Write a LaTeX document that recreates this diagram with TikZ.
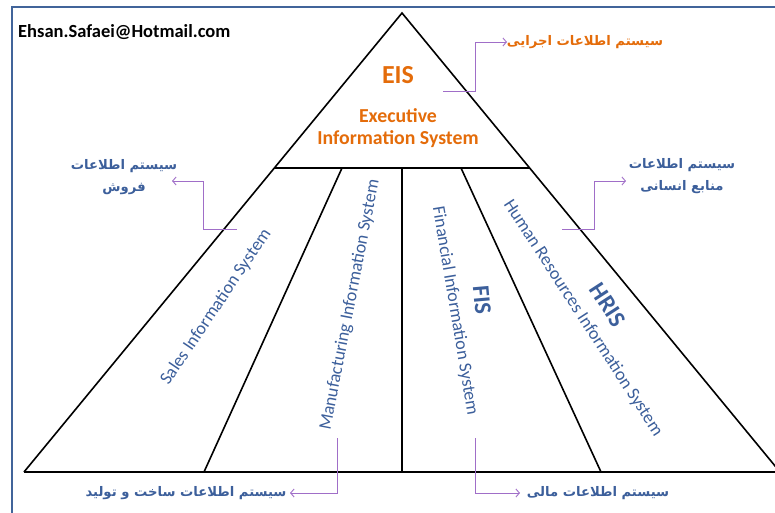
\documentclass[tikz,border=0pt]{standalone}
\usepackage{fontspec}
\setmainfont{Carlito}
\newfontfamily\fa[Script=Arabic]{DejaVu Sans}
\TeXXeTstate=1
\usetikzlibrary{arrows.meta,calc}
\definecolor{frameblue}{RGB}{65,100,154}
\definecolor{eisorange}{RGB}{228,108,10}
\definecolor{txtblue}{RGB}{60,95,155}
\definecolor{arrpurple}{RGB}{160,110,200}
\begin{document}
\begin{tikzpicture}[x=1pt,y=-1pt,
  edge/.style={line width=1.6pt, black},
  callout/.style={draw=arrpurple, line width=0.9pt, -{Straight Barb[length=3.5pt,width=8pt]}},
  rottext/.style={text=txtblue, font=\fontsize{18}{20}\selectfont, inner sep=0pt},
  abbr/.style={text=txtblue, font=\fontsize{24}{26}\selectfont\bfseries, inner sep=0pt},
  falabel/.style={text=txtblue, font=\fontsize{13.2}{22}\selectfont\fa\bfseries, align=center, inner sep=0pt},
]
\useasboundingbox (0,0) rectangle (775,513);
% frame
\draw[frameblue, line width=2pt] (11.5,513) -- (11.5,7.5) -- (775,7.5);
% triangle
\coordinate (apex) at (402,13);
\coordinate (bl) at (24,472);
\coordinate (br) at (780,472);
\coordinate (eisl) at ($(apex)!0.3377!(bl)$);
\coordinate (eisr) at ($(apex)!0.3377!(br)$);
\draw[edge] (bl) -- (apex) -- (br);
\draw[edge] (bl) -- (br);
\draw[edge] (eisl) -- (eisr);
\coordinate (m1t) at (342,168); \coordinate (m1b) at (204,472);
\coordinate (m2t) at (402,168); \coordinate (m2b) at (402,472);
\coordinate (m3t) at (461,168); \coordinate (m3b) at (601,472);
\draw[edge] (m1t) -- (m1b);
\draw[edge] (m2t) -- (m2b);
\draw[edge] (m3t) -- (m3b);
% texts
\node[anchor=west, inner sep=0pt, font=\fontsize{18.5}{20}\selectfont\bfseries] (email) at (18,32) {Ehsan.Safaei@Hotmail.com};
\node[text=eisorange, font=\fontsize{26}{28}\selectfont\bfseries, inner sep=0pt] (eis) at (398,75) {EIS};
\node[text=eisorange, font=\fontsize{19.8}{22}\selectfont\bfseries, align=center, inner sep=0pt] (eisfull) at (398,128) {Executive\\Information System};
\node[rottext, rotate=56] (sales) at (216,307) {Sales Information System};
\node[rottext, rotate=79] (mfg) at (350,305) {Manufacturing Information System};
\node[rottext, rotate=-80.5] (fin) at (455,311) {Financial Information System};
\node[rottext, rotate=-57] (hr) at (583,318) {Human Resources Information System};
\node[abbr, rotate=-85] (fis) at (482,300) {FIS};
\node[abbr, rotate=-57] (hris) at (608,305) {HRIS};
% persian labels
\node[falabel, text=eisorange] (eisfa) at (585,42) {\beginR سیستم اطلاعات اجرایی\endR};
\node[falabel] (salesfa) at (124,177) {\beginR سیستم اطلاعات\endR\\\beginR فروش\endR};
\node[falabel] (hrfa) at (682,176) {\beginR سیستم اطلاعات\endR\\\beginR منابع انسانی\endR};
\node[falabel] (mfgfa) at (186,493) {\beginR سیستم اطلاعات ساخت و تولید\endR};
\node[falabel] (finfa) at (598,493) {\beginR سیستم اطلاعات مالی\endR};
% callouts
\coordinate (eisS) at (443,91);
\coordinate (eisE) at (507,42);
\draw[callout] (eisS) -- (475,91) |- (eisE);
\coordinate (salesS) at (237,229);
\coordinate (salesE) at (172,181);
\draw[callout] (salesS) -- (203,229) |- (salesE);
\coordinate (hrS) at (562,229);
\coordinate (hrE) at (626,181);
\draw[callout] (hrS) -- (594,229) |- (hrE);
\coordinate (mfgS) at (337,438);
\coordinate (mfgE) at (290,493);
\draw[callout] (mfgS) |- (mfgE);
\coordinate (finS) at (475,438);
\coordinate (finE) at (520,493);
\draw[callout] (finS) |- (finE);
\end{tikzpicture}
\end{document}
